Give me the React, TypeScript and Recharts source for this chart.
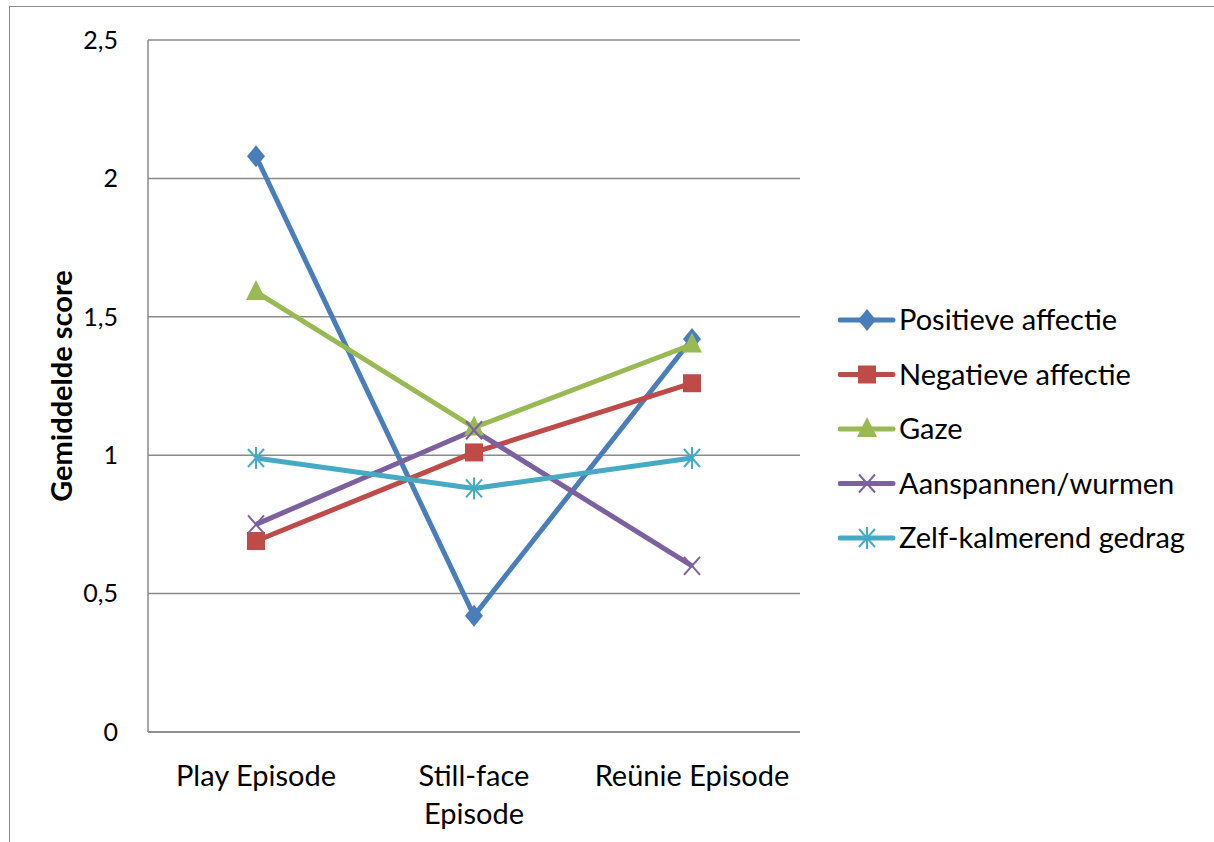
import React from 'react'
import { LineChart, Line, XAxis, YAxis, CartesianGrid, Label } from 'recharts'

const episodes = ['Play Episode', 'Still-face Episode', 'Reünie Episode']
const positieveAffectie = [2.08, 0.42, 1.42]
const negatieveAffectie = [0.69, 1.01, 1.26]
const gaze = [1.59, 1.1, 1.4]
const aanspannen = [0.75, 1.09, 0.6]
const zelfKalmerend = [0.99, 0.88, 0.99]
const yTicks = [0, 0.5, 1, 1.5, 2, 2.5]

const FONT = 'Lato, "Open Sans", sans-serif'

const data = episodes.map((name, i) => ({
  name,
  pos: positieveAffectie[i],
  neg: negatieveAffectie[i],
  gaze: gaze[i],
  aan: aanspannen[i],
  zelf: zelfKalmerend[i],
}))

type Shape = 'diamond' | 'square' | 'triangle' | 'x' | 'star'

const series: { key: string; name: string; color: string; shape: Shape }[] = [
  { key: 'pos', name: 'Positieve affectie', color: '#4A7EBB', shape: 'diamond' },
  { key: 'neg', name: 'Negatieve affectie', color: '#BE4B48', shape: 'square' },
  { key: 'gaze', name: 'Gaze', color: '#98B954', shape: 'triangle' },
  { key: 'aan', name: 'Aanspannen/wurmen', color: '#7D60A0', shape: 'x' },
  { key: 'zelf', name: 'Zelf-kalmerend gedrag', color: '#46AAC5', shape: 'star' },
]

function Marker({ cx, cy, shape, color }: { cx: number; cy: number; shape: Shape; color: string }) {
  switch (shape) {
    case 'diamond':
      return <polygon points={`${cx},${cy - 11} ${cx + 9},${cy} ${cx},${cy + 11} ${cx - 9},${cy}`} fill={color} />
    case 'square':
      return <rect x={cx - 9} y={cy - 9} width={18} height={18} fill={color} />
    case 'triangle':
      return <polygon points={`${cx},${cy - 12} ${cx + 10},${cy + 8} ${cx - 10},${cy + 8}`} fill={color} />
    case 'x':
      return (
        <g stroke={color} strokeWidth={2}>
          <line x1={cx - 8} y1={cy - 9} x2={cx + 8} y2={cy + 9} />
          <line x1={cx - 8} y1={cy + 9} x2={cx + 8} y2={cy - 9} />
        </g>
      )
    default:
      return (
        <g stroke={color} strokeWidth={2}>
          <line x1={cx - 8} y1={cy - 9} x2={cx + 8} y2={cy + 9} />
          <line x1={cx - 8} y1={cy + 9} x2={cx + 8} y2={cy - 9} />
          <line x1={cx} y1={cy - 11} x2={cx} y2={cy + 11} />
        </g>
      )
  }
}

function XTick({ x, y, payload }: any) {
  const words: string[] = payload.value === 'Still-face Episode' ? ['Still-face', 'Episode'] : [payload.value]
  return (
    <text x={x} y={y} textAnchor="middle" fontSize={29} fontFamily={FONT} fill="#000">
      {words.map((w, i) => (
        <tspan key={i} x={x} dy={i === 0 ? 46 : 38}>
          {w}
        </tspan>
      ))}
    </text>
  )
}

function ChartLegend() {
  return (
    <svg width={380} height={280} style={{ position: 'absolute', left: 838, top: 295 }}>
      {series.map((s, i) => {
        const cy = 25 + i * 54.5
        return (
          <g key={s.key}>
            <line x1={2} y1={cy} x2={55} y2={cy} stroke={s.color} strokeWidth={5} strokeLinecap="round" />
            <Marker cx={29} cy={cy} shape={s.shape} color={s.color} />
            <text x={61} y={cy + 10} fontSize={29} fontFamily={FONT} fill="#000">
              {s.name}
            </text>
          </g>
        )
      })}
    </svg>
  )
}

export default function App() {
  return (
    <div style={{ position: 'absolute', left: 0, top: 0, width: 1214, height: 842, overflow: 'hidden', background: '#fff' }}>
      <div
        style={{
          position: 'absolute',
          left: 9,
          top: 6,
          width: 1300,
          height: 1000,
          border: '1.5px solid #8a8a8a',
        }}
      />
      <LineChart
        width={1214}
        height={842}
        data={data}
        margin={{ top: 40, right: 414, left: 0, bottom: 0 }}
        style={{ position: 'absolute', left: 0, top: 0 }}
      >
        <CartesianGrid vertical={false} stroke="#8a8a8a" strokeWidth={1.5} />
        <XAxis
          dataKey="name"
          height={110}
          padding={{ left: 108, right: 108 }}
          axisLine={{ stroke: '#8a8a8a', strokeWidth: 1.5 }}
          tickLine={false}
          tick={<XTick />}
          interval={0}
        />
        <YAxis
          width={148}
          domain={[0, 2.5]}
          ticks={yTicks}
          axisLine={{ stroke: '#8a8a8a', strokeWidth: 1.5 }}
          tickLine={false}
          tickMargin={24}
          tickFormatter={(v: number) => String(v).replace('.', ',')}
          tick={{ fontSize: 25, fontFamily: FONT, fill: '#000' }}
        >
          <Label
            value="Gemiddelde score"
            angle={-90}
            position="insideLeft"
            offset={62}
            style={{ fontSize: 29, fontWeight: 'bold', fontFamily: FONT, fill: '#000', textAnchor: 'middle' }}
          />
        </YAxis>
        {series.map((s) => (
          <Line
            key={s.key}
            dataKey={s.key}
            name={s.name}
            stroke={s.color}
            strokeWidth={5}
            isAnimationActive={false}
            dot={(p: any) => <Marker key={`${s.key}-${p.index}`} cx={p.cx} cy={p.cy} shape={s.shape} color={s.color} />}
            activeDot={false}
          />
        ))}
      </LineChart>
      <ChartLegend />
    </div>
  )
}
